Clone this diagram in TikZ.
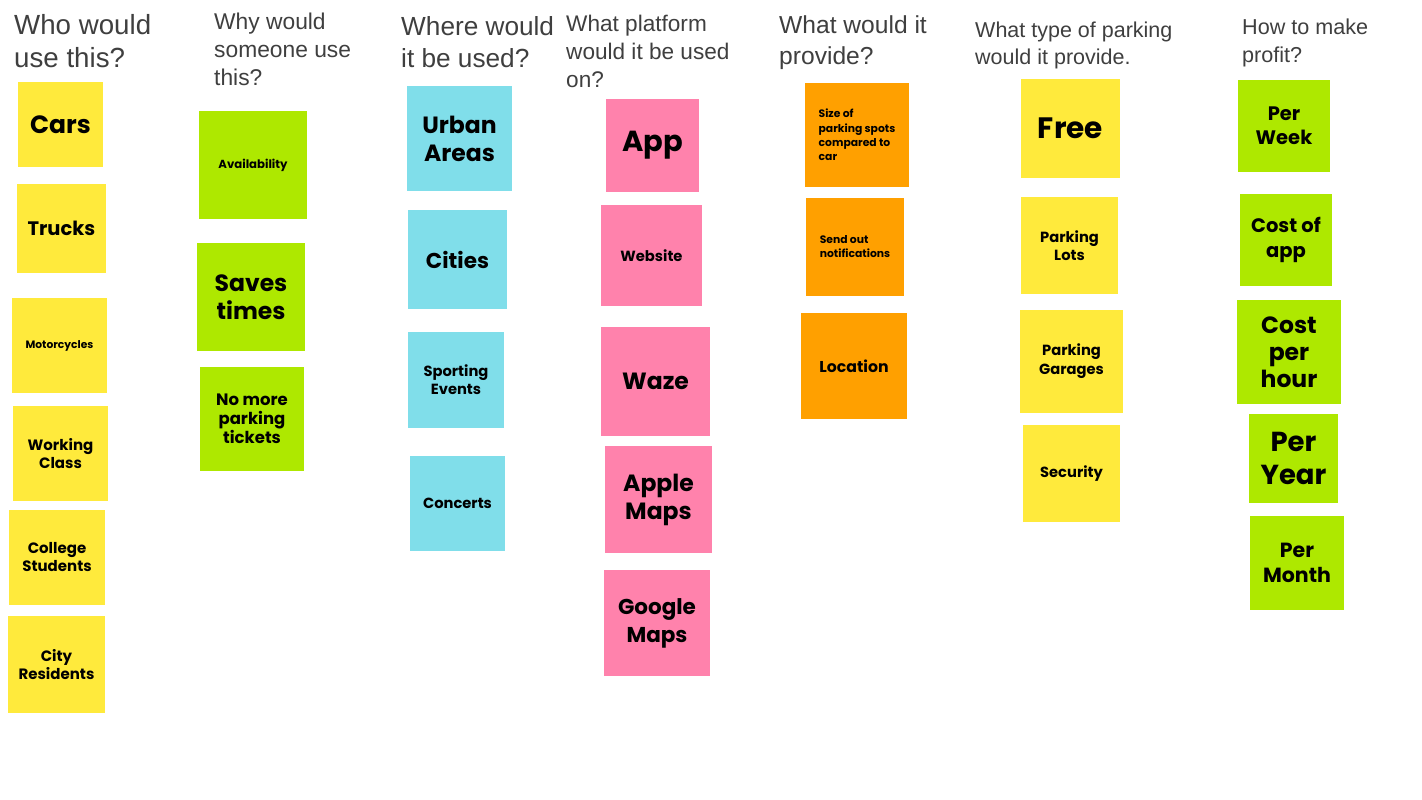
\documentclass[tikz,border=0pt]{standalone}
\usepackage{fontspec}
\setmainfont{Liberation Sans}
\newfontfamily\notefont{Poppins}
\definecolor{cyel}{HTML}{FFEA3C}
\definecolor{cgrn}{HTML}{AEE800}
\definecolor{ccyan}{HTML}{80DEEA}
\definecolor{cpink}{HTML}{FF82AC}
\definecolor{corg}{HTML}{FFA000}
\definecolor{chead}{HTML}{3F3F3F}
\tikzset{
  note/.style={inner sep=0pt, align=center, text=black},
  head/.style={anchor=north west, inner sep=0pt, align=left, text=chead},
}
\newcommand\note[9]{%
  \node[note, fill=#6, minimum width={#4-#2}, minimum height={#5-#3},
        font=\notefont\bfseries\fontsize{#7}{#8}\selectfont]
    (#1) at ({(#2+#4)/2},{(#3+#5)/2}) {#9};}
\begin{document}
\begin{tikzpicture}[x=1pt,y=-1pt]
\useasboundingbox[fill=white] (0,0) rectangle (1422,800);
% headers
\node[head, font=\fontsize{27.7}{33}\selectfont] (h1) at (14,14) {Who would\\use this?};
\node[head, font=\fontsize{22.8}{28}\selectfont] (h2) at (214,13) {Why would\\someone use\\this?};
\node[head, font=\fontsize{26.2}{32}\selectfont] (h3) at (401,16) {Where would\\it be used?};
\node[head, font=\fontsize{22.6}{28}\selectfont] (h4) at (566,15) {What platform\\would it be used\\on?};
\node[head, font=\fontsize{24.6}{31}\selectfont] (h5) at (779,15) {What would it\\provide?};
\node[head, font=\fontsize{21.5}{27}\selectfont] (h6) at (975,22) {What type of parking\\would it provide.};
\node[head, font=\fontsize{21.6}{28}\selectfont] (h7) at (1242,19) {How to make\\profit?};
% column 1
\note{cars}{18}{82}{103}{167}{cyel}{25}{30}{Cars}
\note{trucks}{17}{184}{106}{273}{cyel}{19.5}{23}{Trucks}
\note{moto}{12}{298}{107}{393}{cyel}{10.7}{13}{Motorcycles}
\note{work}{13}{406}{108}{501}{cyel}{15}{18}{Working\\Class}
\note{coll}{9}{510}{105}{605}{cyel}{15}{18}{College\\Students}
\note{city}{8}{616}{105}{713}{cyel}{15}{18}{City\\Residents}
% column 2
\note{avail}{199}{111}{307}{219}{cgrn}{11.7}{14}{Availability}
\note{saves}{197}{243}{305}{351}{cgrn}{23.5}{28}{Saves\\times}
\note{tick}{200}{367}{304}{471}{cgrn}{16.5}{19}{No more\\parking\\tickets}
% column 3
\note{urban}{407}{86}{512}{191}{ccyan}{23.5}{28}{Urban\\Areas}
\note{cities}{408}{210}{507}{309}{ccyan}{21.5}{26}{Cities}
\note{sport}{408}{332}{504}{428}{ccyan}{14.7}{18}{Sporting\\Events}
\note{conc}{410}{456}{505}{551}{ccyan}{14.7}{18}{Concerts}
% column 4
\note{app}{606}{99}{699}{192}{cpink}{29}{34}{App}
\note{web}{601}{205}{702}{306}{cpink}{14.7}{18}{Website}
\note{waze}{601}{327}{710}{436}{cpink}{23.5}{28}{Waze}
\note{apple}{605}{446}{712}{553}{cpink}{23.5}{28}{Apple\\Maps}
\note{google}{604}{570}{710}{676}{cpink}{21.5}{28}{Google\\Maps}
% column 5
\node[note, fill=corg, minimum width=104, minimum height=104, align=left,
      font=\notefont\bfseries\fontsize{10.8}{14.3}\selectfont]
  (size) at (857,135) {Size of\\parking spots\\compared to\\car};
\node[note, fill=corg, minimum width=98, minimum height=98, align=left,
      font=\notefont\bfseries\fontsize{10.8}{14}\selectfont]
  (notif) at (855,247) {Send out\\notifications};
\note{loc}{801}{313}{907}{419}{corg}{15.7}{19}{Location}
% column 6
\note{free}{1021}{79}{1120}{178}{cyel}{29.5}{34}{Free}
\note{lots}{1021}{197}{1118}{294}{cyel}{14.7}{18}{Parking\\Lots}
\note{gar}{1020}{310}{1123}{413}{cyel}{14.7}{19}{Parking\\Garages}
\note{sec}{1023}{425}{1120}{522}{cyel}{14.7}{18}{Security}
% column 7
\note{week}{1238}{80}{1330}{172}{cgrn}{19.5}{24}{Per\\Week}
\note{costapp}{1240}{194}{1332}{286}{cgrn}{19.5}{25}{Cost of\\app}
\note{hour}{1237}{300}{1341}{404}{cgrn}{23.5}{27}{Cost\\per\\hour}
\note{year}{1249}{414}{1338}{503}{cgrn}{27.5}{33}{Per\\Year}
\note{month}{1250}{516}{1344}{610}{cgrn}{20.5}{25}{Per\\Month}
\end{tikzpicture}
\end{document}
